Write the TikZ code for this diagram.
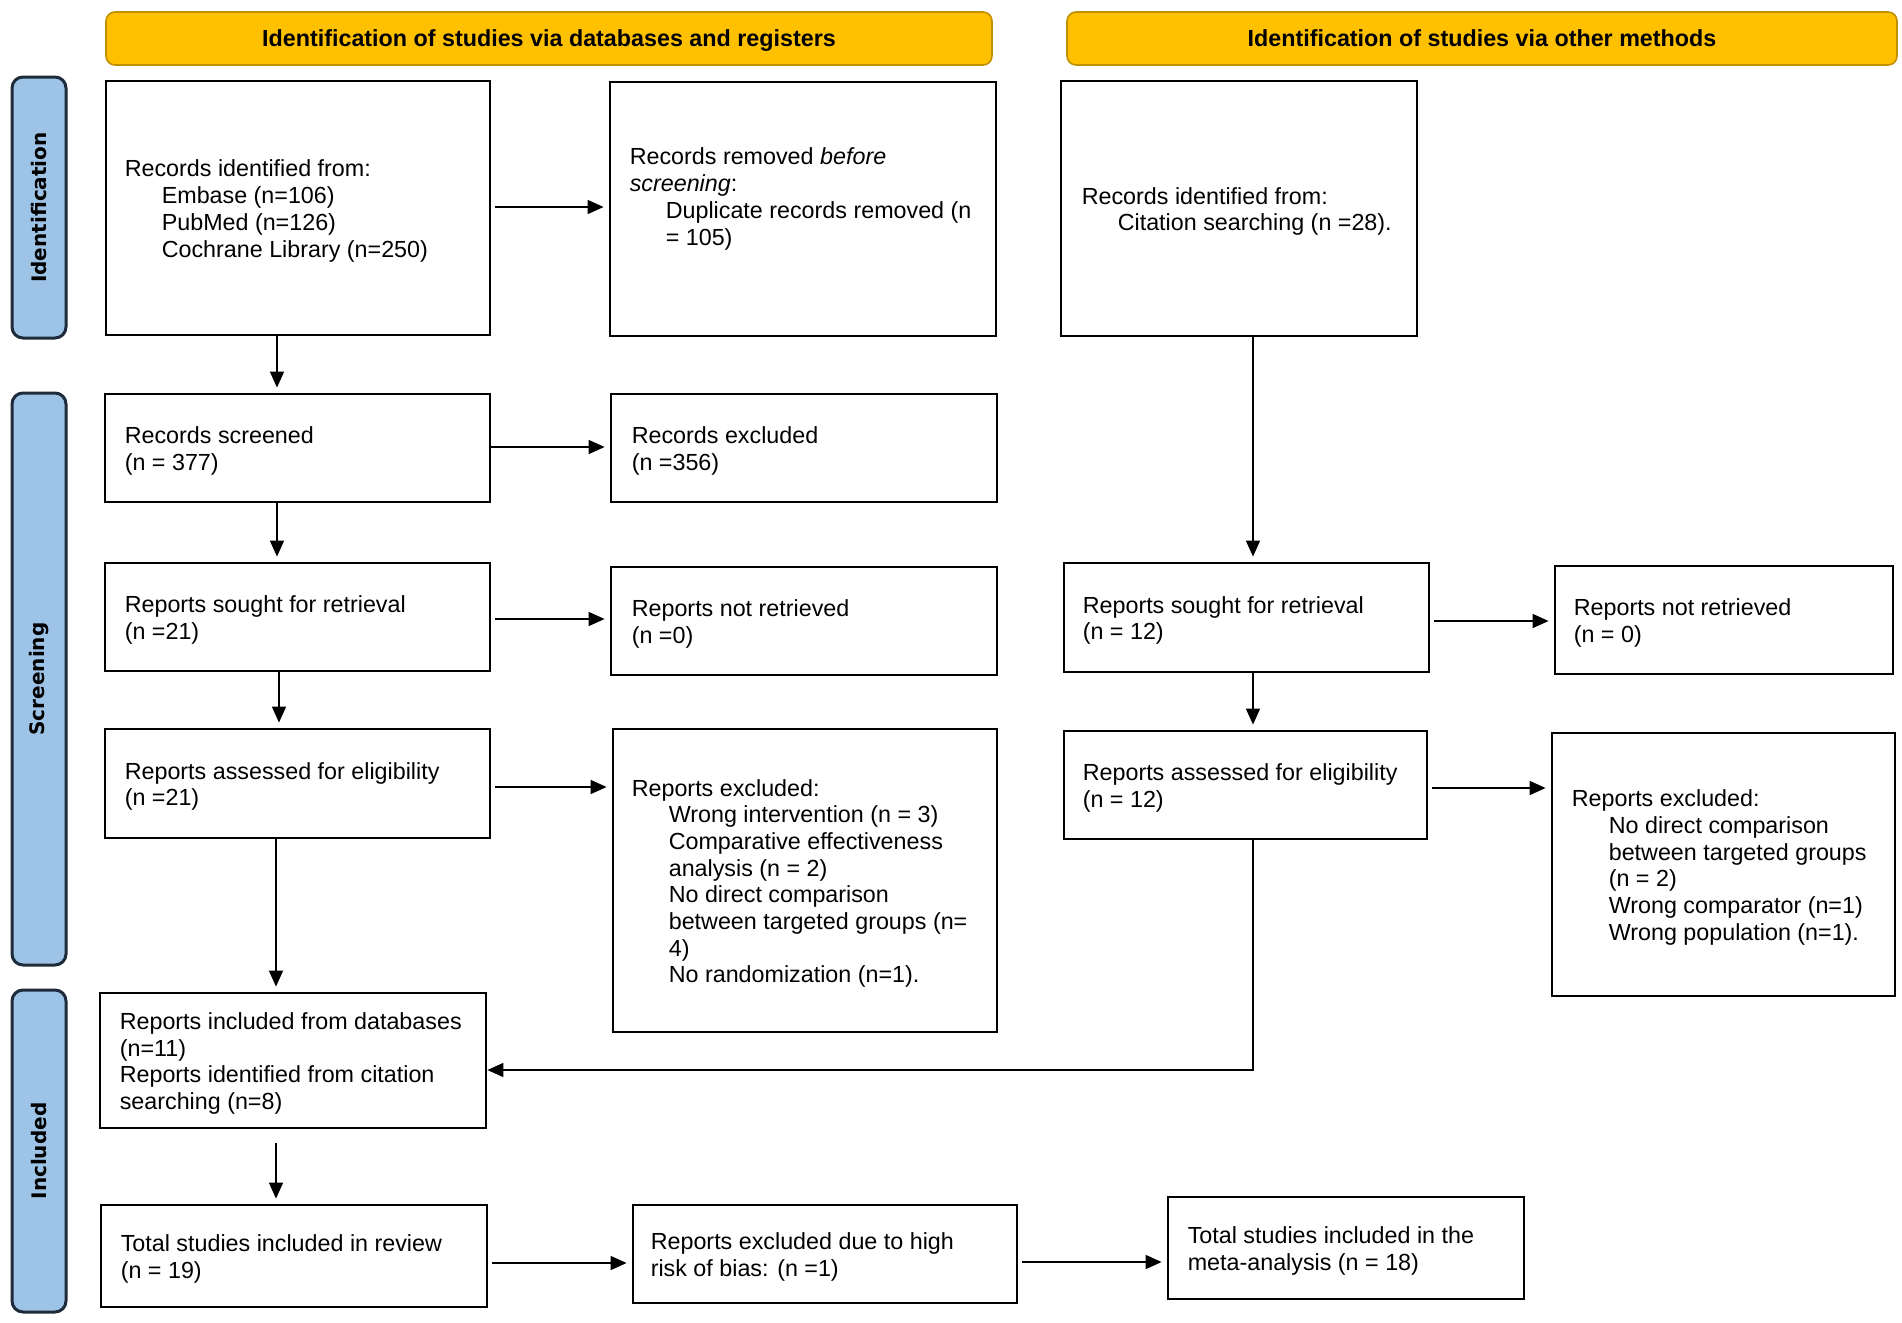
\documentclass[tikz,border=0pt]{standalone}
\usepackage{fontspec}
\setmainfont{Liberation Sans}
\newfontfamily\sidefont{DejaVu Sans}
\usetikzlibrary{arrows.meta}
\definecolor{hdrfill}{HTML}{FFC000}
\definecolor{hdrdraw}{HTML}{C09000}
\definecolor{sbfill}{HTML}{9DC3E6}
\definecolor{sbdraw}{HTML}{1E2B3A}
\begin{document}
\begin{tikzpicture}[x=1pt,y=-1pt,
 box/.style={draw=black, line width=2.8pt, inner sep=0pt, fill=white},
 txt/.style={anchor=west, align=left, inner sep=0pt, yshift=-3pt, font=\fontsize{23.3}{26.7}\selectfont},
 header/.style={draw=hdrdraw, fill=hdrfill, line width=1.6pt, rounded corners=9pt, font=\bfseries\fontsize{23.3}{26.7}\selectfont, inner sep=0pt, text height=21pt, text depth=5pt},
 sidebar/.style={draw=sbdraw, fill=sbfill, line width=3pt, rounded corners=11pt, font=\sidefont\bfseries\fontsize{20}{24}\selectfont, inner sep=0pt, rotate=90},
 arr/.style={line width=1.6pt, -{Triangle[length=16pt,width=14pt]}, shorten <=4pt, shorten >=5pt},
 ]
\fill[white] (0,0) rectangle (1902,1322);
\useasboundingbox (0,0) rectangle (1902,1322);

% headers
\node[header, minimum width=886, minimum height=53] (h1) at (549,38.5) {Identification of studies via databases and registers};
\node[header, minimum width=830, minimum height=53] (h2) at (1482,38.5) {Identification of studies via other methods};

% side bars
\node[sidebar, minimum width=261, minimum height=54] (s1) at (39,207.5) {Identification};
\node[sidebar, minimum width=572, minimum height=54] (s2) at (39,679) {Screening};
\node[sidebar, minimum width=322, minimum height=54] (s3) at (39,1151) {Included};

% boxes
\node[box, minimum width=384, minimum height=254] (A) at (298,208) {};
\node[box, minimum width=386, minimum height=254] (B) at (803,209) {};
\node[box, minimum width=356, minimum height=255] (C) at (1239,208.5) {};
\node[box, minimum width=385, minimum height=108] (D) at (297.5,448) {};
\node[box, minimum width=386, minimum height=108] (E) at (804,448) {};
\node[box, minimum width=385, minimum height=108] (F) at (297.5,617) {};
\node[box, minimum width=386, minimum height=108] (G) at (804,621) {};
\node[box, minimum width=365, minimum height=109] (H) at (1246.5,617.5) {};
\node[box, minimum width=338, minimum height=108] (I) at (1724,620) {};
\node[box, minimum width=385, minimum height=109] (J) at (297.5,783.5) {};
\node[box, minimum width=384, minimum height=303] (K) at (805,880.5) {};
\node[box, minimum width=363, minimum height=108] (L) at (1245.5,785) {};
\node[box, minimum width=343, minimum height=263] (M) at (1723.5,864.5) {};
\node[box, minimum width=386, minimum height=135] (N) at (293,1060.5) {};
\node[box, minimum width=386, minimum height=102] (O) at (294,1256) {};
\node[box, minimum width=384, minimum height=98] (P) at (825,1254) {};
\node[box, minimum width=356, minimum height=102] (Q) at (1346,1248) {};

% texts
\node[txt] (At) at ([xshift=20pt]A.west) {Records identified from:\\\hspace*{37pt}Embase (n=106)\\\hspace*{37pt}PubMed (n=126)\\\hspace*{37pt}Cochrane Library (n=250)};
\node[txt] (Bt) at ([xshift=21pt,yshift=13pt]B.west) {Records removed \textit{before}\\\textit{screening}:\\\hspace*{36pt}Duplicate records removed (n\\\hspace*{36pt}= 105)};
\node[txt] (Ct) at ([xshift=22pt]C.west) {Records identified from:\\\hspace*{36pt}Citation searching (n =28).};
\node[txt] (Dt) at ([xshift=21pt]D.west) {Records screened\\(n = 377)};
\node[txt] (Et) at ([xshift=22pt]E.west) {Records excluded\\(n =356)};
\node[txt] (Ft) at ([xshift=21pt]F.west) {Reports sought for retrieval\\(n =21)};
\node[txt] (Gt) at ([xshift=22pt]G.west) {Reports not retrieved\\(n =0)};
\node[txt] (Ht) at ([xshift=20pt]H.west) {Reports sought for retrieval\\(n = 12)};
\node[txt] (It) at ([xshift=20pt]I.west) {Reports not retrieved\\(n = 0)};
\node[txt] (Jt) at ([xshift=21pt]J.west) {Reports assessed for eligibility\\(n =21)};
\node[txt] (Kt) at ([xshift=20pt]K.west) {Reports excluded:\\\hspace*{37pt}Wrong intervention (n = 3)\\\hspace*{37pt}Comparative effectiveness\\\hspace*{37pt}analysis (n = 2)\\\hspace*{37pt}No direct comparison\\\hspace*{37pt}between targeted groups (n=\\\hspace*{37pt}4)\\\hspace*{37pt}No randomization (n=1).};
\node[txt] (Lt) at ([xshift=20pt]L.west) {Reports assessed for eligibility\\(n = 12)};
\node[txt] (Mt) at ([xshift=21pt]M.west) {Reports excluded:\\\hspace*{37pt}No direct comparison\\\hspace*{37pt}between targeted groups\\\hspace*{37pt}(n = 2)\\\hspace*{37pt}Wrong comparator (n=1)\\\hspace*{37pt}Wrong population (n=1).};
\node[txt] (Nt) at ([xshift=21pt]N.west) {Reports included from databases\\(n=11)\\Reports identified from citation\\searching (n=8)};
\node[txt] (Ot) at ([xshift=21pt]O.west) {Total studies included in review\\(n = 19)};
\node[txt] (Pt) at ([xshift=19pt]P.west) {Reports excluded due to high\\risk of bias: (n =1)};
\node[txt] (Qt) at ([xshift=21pt]Q.west) {Total studies included in the\\meta-analysis (n = 18)};

% connectors
\draw[arr] (A.east |- 0,207) -- (B.west |- 0,207);
\draw[arr, shorten <=0pt] (A.south -| 277,0) -- (D.north -| 277,0);
\draw[arr, shorten <=0pt] (D.east |- 0,447) -- (E.west |- 0,447);
\draw[arr, shorten <=0pt] (D.south -| 277,0) -- (F.north -| 277,0);
\draw[arr] (F.east |- 0,619) -- (G.west |- 0,619);
\draw[arr, shorten <=0pt] (F.south -| 279,0) -- (J.north -| 279,0);
\draw[arr] (J.east |- 0,787) -- (K.west |- 0,787);
\draw[arr, shorten <=0pt] (J.south -| 276,0) -- (N.north -| 276,0);
\draw[arr, shorten <=0pt] (C.south -| 1253,0) -- (H.north -| 1253,0);
\draw[arr] (H.east |- 0,621) -- (I.west |- 0,621);
\draw[arr, shorten <=0pt] (H.south -| 1253,0) -- (L.north -| 1253,0);
\draw[arr] (L.east |- 0,788) -- (M.west |- 0,788);
\draw[arr, shorten <=0pt, shorten >=0pt] (L.south -| 1253,0) |- (N.east |- 0,1070);
\draw[arr, shorten <=14pt] (N.south -| 276,0) -- (O.north -| 276,0);
\draw[arr] (O.east |- 0,1263) -- (P.west |- 0,1263);
\draw[arr] (P.east |- 0,1262) -- (Q.west |- 0,1262);
\end{tikzpicture}
\end{document}
